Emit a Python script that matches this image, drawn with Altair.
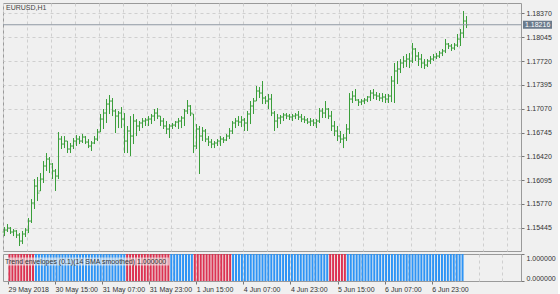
import altair as alt
import pandas as pd

symbol_title = "EURUSD,H1"
indicator_title = "Trend envelopes (0.1)(14 SMA smoothed) 1.000000"
time_labels = ["29 May 2018", "30 May 15:00", "31 May 07:00", "31 May 23:00", "1 Jun 15:00",
               "4 Jun 07:00", "4 Jun 23:00", "5 Jun 15:00", "6 Jun 07:00", "6 Jun 23:00"]
label_every = 16
grid_every = 8
price_ticks = [1.15445, 1.15770, 1.16095, 1.16420, 1.16745, 1.17070, 1.17395, 1.17720, 1.18045, 1.18370]
indicator_ticks = [0.0, 1.0]

highs = [1.15455, 1.15496, 1.15455, 1.15428, 1.15414, 1.15373, 1.15401, 1.15441, 1.15578, 1.15837,
         1.16110, 1.16138, 1.16192, 1.16356, 1.16465, 1.16411, 1.16329, 1.16247, 1.16752, 1.16697,
         1.16697, 1.16629, 1.16602, 1.16670, 1.16711, 1.16697, 1.16725, 1.16697, 1.16656, 1.16629,
         1.16697, 1.16793, 1.16998, 1.17066, 1.17202, 1.17257, 1.17216, 1.17066, 1.17039, 1.17093,
         1.17011, 1.16834, 1.16970, 1.16998, 1.16929, 1.16902, 1.16943, 1.16943, 1.16970, 1.16998,
         1.17066, 1.17079, 1.16970, 1.16943, 1.16902, 1.16861, 1.16875, 1.16902, 1.16943, 1.16970,
         1.17066, 1.17189, 1.17120, 1.16998, 1.16861, 1.16834, 1.16820, 1.16793, 1.16697, 1.16656,
         1.16629, 1.16656, 1.16697, 1.16684, 1.16725, 1.16806, 1.16902, 1.16943, 1.16970, 1.16970,
         1.16943, 1.17039, 1.17175, 1.17216, 1.17380, 1.17366, 1.17448, 1.17243, 1.17271, 1.17271,
         1.17039, 1.16998, 1.16984, 1.17011, 1.17011, 1.16998, 1.16998, 1.17011, 1.17039, 1.16998,
         1.16970, 1.16943, 1.16943, 1.16929, 1.16929, 1.17079, 1.17079, 1.17175, 1.17079, 1.17039,
         1.16902, 1.16834, 1.16766, 1.16725, 1.16861, 1.17284, 1.17312, 1.17339, 1.17202, 1.17202,
         1.17216, 1.17243, 1.17325, 1.17339, 1.17298, 1.17284, 1.17284, 1.17271, 1.17271, 1.17516,
         1.17694, 1.17721, 1.17748, 1.17789, 1.17817, 1.17830, 1.17967, 1.17898, 1.17844, 1.17817,
         1.17748, 1.17748, 1.17789, 1.17817, 1.17830, 1.17858, 1.17885, 1.18021, 1.17967, 1.17953,
         1.17967, 1.18090, 1.18158, 1.18404, 1.18335]

lows = [1.15332, 1.15387, 1.15360, 1.15332, 1.15305, 1.15196, 1.15223, 1.15319, 1.15373, 1.15510,
        1.15701, 1.15810, 1.15947, 1.16056, 1.16220, 1.16192, 1.16110, 1.15947, 1.16110, 1.16520,
        1.16533, 1.16465, 1.16465, 1.16520, 1.16561, 1.16588, 1.16602, 1.16588, 1.16533, 1.16493,
        1.16588, 1.16629, 1.16752, 1.16793, 1.16875, 1.16998, 1.16970, 1.16738, 1.16806, 1.16806,
        1.16465, 1.16465, 1.16424, 1.16588, 1.16697, 1.16766, 1.16806, 1.16834, 1.16834, 1.16861,
        1.16902, 1.16929, 1.16834, 1.16793, 1.16725, 1.16670, 1.16793, 1.16820, 1.16793, 1.16806,
        1.16834, 1.16998, 1.16970, 1.16465, 1.16520, 1.16179, 1.16629, 1.16615, 1.16561, 1.16533,
        1.16533, 1.16561, 1.16561, 1.16602, 1.16629, 1.16656, 1.16725, 1.16806, 1.16834, 1.16820,
        1.16766, 1.16766, 1.16861, 1.16998, 1.17175, 1.17216, 1.17134, 1.17134, 1.17066, 1.16970,
        1.16766, 1.16806, 1.16861, 1.16902, 1.16929, 1.16916, 1.16902, 1.16929, 1.16916, 1.16888,
        1.16875, 1.16861, 1.16834, 1.16834, 1.16806, 1.16875, 1.16943, 1.16943, 1.16929, 1.16766,
        1.16697, 1.16629, 1.16602, 1.16533, 1.16629, 1.16725, 1.17148, 1.17175, 1.17107, 1.17120,
        1.17134, 1.17161, 1.17175, 1.17202, 1.17189, 1.17175, 1.17161, 1.17148, 1.17148, 1.17161,
        1.17148, 1.17407, 1.17557, 1.17625, 1.17639, 1.17625, 1.17694, 1.17721, 1.17653, 1.17625,
        1.17612, 1.17639, 1.17680, 1.17721, 1.17748, 1.17762, 1.17789, 1.17830, 1.17885, 1.17858,
        1.17871, 1.17912, 1.17926, 1.18035, 1.18171]

opens = [1.15387, 1.15414, 1.15441, 1.15387, 1.15401, 1.15346, 1.15264, 1.15360, 1.15414, 1.15537,
         1.15783, 1.16015, 1.15947, 1.16110, 1.16288, 1.16383, 1.16315, 1.16220, 1.16151, 1.16656,
         1.16588, 1.16629, 1.16520, 1.16561, 1.16629, 1.16656, 1.16629, 1.16684, 1.16615, 1.16561,
         1.16602, 1.16656, 1.16752, 1.16929, 1.17011, 1.17134, 1.17175, 1.17039, 1.16970, 1.17011,
         1.16929, 1.16629, 1.16766, 1.16697, 1.16902, 1.16834, 1.16875, 1.16902, 1.16916, 1.16929,
         1.16970, 1.17011, 1.16970, 1.16902, 1.16834, 1.16793, 1.16834, 1.16847, 1.16888, 1.16902,
         1.16943, 1.17039, 1.17107, 1.16998, 1.16561, 1.16793, 1.16697, 1.16766, 1.16656, 1.16615,
         1.16588, 1.16602, 1.16629, 1.16656, 1.16643, 1.16697, 1.16766, 1.16875, 1.16902, 1.16888,
         1.16916, 1.16875, 1.16998, 1.17107, 1.17175, 1.17312, 1.17284, 1.17216, 1.17175, 1.17202,
         1.17011, 1.16902, 1.16943, 1.16957, 1.16984, 1.16970, 1.16957, 1.16970, 1.16984, 1.16957,
         1.16929, 1.16916, 1.16888, 1.16902, 1.16875, 1.16902, 1.17039, 1.17011, 1.17066, 1.16970,
         1.16834, 1.16766, 1.16697, 1.16656, 1.16670, 1.16793, 1.17202, 1.17243, 1.17189, 1.17161,
         1.17175, 1.17189, 1.17230, 1.17284, 1.17257, 1.17243, 1.17216, 1.17230, 1.17202, 1.17243,
         1.17448, 1.17585, 1.17612, 1.17694, 1.17721, 1.17748, 1.17721, 1.17885, 1.17789, 1.17748,
         1.17694, 1.17666, 1.17721, 1.17748, 1.17776, 1.17789, 1.17830, 1.17858, 1.17953, 1.17926,
         1.17898, 1.17939, 1.18021, 1.18103, 1.18267]

closes = [1.15414, 1.15441, 1.15387, 1.15401, 1.15346, 1.15264, 1.15360, 1.15414, 1.15537, 1.15783,
          1.16015, 1.15919, 1.16110, 1.16288, 1.16383, 1.16315, 1.16220, 1.16151, 1.16656, 1.16588,
          1.16629, 1.16520, 1.16561, 1.16629, 1.16656, 1.16629, 1.16684, 1.16615, 1.16561, 1.16602,
          1.16656, 1.16752, 1.16929, 1.17011, 1.17134, 1.17175, 1.17039, 1.16970, 1.17011, 1.16929,
          1.16629, 1.16766, 1.16697, 1.16902, 1.16834, 1.16875, 1.16902, 1.16916, 1.16929, 1.16970,
          1.17011, 1.16970, 1.16902, 1.16834, 1.16793, 1.16834, 1.16847, 1.16888, 1.16902, 1.16943,
          1.17039, 1.17107, 1.17011, 1.16561, 1.16793, 1.16697, 1.16766, 1.16656, 1.16615, 1.16588,
          1.16602, 1.16629, 1.16656, 1.16643, 1.16697, 1.16766, 1.16875, 1.16902, 1.16888, 1.16916,
          1.16875, 1.16998, 1.17107, 1.17175, 1.17312, 1.17284, 1.17216, 1.17175, 1.17202, 1.17011,
          1.16902, 1.16943, 1.16957, 1.16984, 1.16970, 1.16957, 1.16970, 1.16984, 1.16957, 1.16929,
          1.16916, 1.16888, 1.16902, 1.16875, 1.16902, 1.17039, 1.17011, 1.17066, 1.16970, 1.16834,
          1.16766, 1.16697, 1.16656, 1.16670, 1.16793, 1.17202, 1.17243, 1.17189, 1.17161, 1.17175,
          1.17189, 1.17230, 1.17284, 1.17257, 1.17243, 1.17216, 1.17230, 1.17202, 1.17243, 1.17448,
          1.17585, 1.17612, 1.17694, 1.17721, 1.17748, 1.17721, 1.17885, 1.17789, 1.17748, 1.17694,
          1.17666, 1.17721, 1.17748, 1.17776, 1.17789, 1.17830, 1.17858, 1.17953, 1.17926, 1.17898,
          1.17939, 1.18021, 1.18103, 1.18267, 1.18216]

# trend-envelope state per bar, as runs of (state, number of bars)
trend_runs = [("down", 9), ("up", 31), ("down", 15), ("up", 8), ("down", 13),
              ("up", 33), ("down", 6), ("up", 40)]
indicator_level = 1.0

# ---------------------------------------------------------------- data frames
trend = [state for state, n in trend_runs for _ in range(n)]
df = pd.DataFrame({
    "bar": list(range(len(closes))),
    "open": opens, "high": highs, "low": lows, "close": closes,
    "trend": trend,
    "level": [indicator_level] * len(closes),
})
last = pd.DataFrame({"price": [closes[-1]], "label": [f"{closes[-1]:.5f}"]})
title_df = pd.DataFrame({"t": [symbol_title]})
ind_title_df = pd.DataFrame({"t": [indicator_title]})

# ---------------------------------------------------------------- styling
FONT = "Liberation Sans"
BG = "#f0f0f0"
GREEN = "#3a9e3a"
RED = "#dc3352"
BLUE = "#2e94f5"
GRID = "#cfcfcf"
FRAME = "#9a9a9a"
TXT = "#333333"

W = 518
H_MAIN = 248
H_IND = 27

x_scale = alt.Scale(domain=[-0.5, (W - 1.5) / 3], nice=False, zero=False)
y_scale = alt.Scale(domain=[1.15128, 1.18513], nice=False, zero=False)

grid_vals = [k * grid_every - 0.5 for k in range(0, 22)]
js_labels = "[" + ",".join("'" + t + "'" for t in time_labels) + "]"
is_lab = f"((datum.value + 0.5) % {label_every} == 0 && (datum.value + 0.5) / {label_every} < {len(time_labels)})"
label_expr = f"{is_lab} ? {js_labels}[(datum.value + 0.5) / {label_every}] : ''"

x_axis_main = alt.Axis(values=grid_vals, labels=False, ticks=False, domain=False,
                       grid=True, gridColor=GRID, gridDash=[3, 3], title=None)
y_axis_main = alt.Axis(orient="right", values=price_ticks, format=".5f", title=None,
                       domain=False, ticks=True, tickSize=3, tickColor="#777777",
                       labelPadding=2, labelFont=FONT, labelFontSize=7, labelColor=TXT,
                       labelOverlap=False, labelBound=False,
                       grid=True, gridColor=GRID, gridDash=[3, 3], labelFlush=False)


def X(field):
    return alt.X(field, scale=x_scale, axis=x_axis_main)


def Y(field):
    return alt.Y(field, scale=y_scale, axis=y_axis_main)


base = alt.Chart(df)
hl = base.mark_rule(color=GREEN, strokeWidth=1).encode(x=X("bar:Q"), y=Y("low:Q"), y2="high:Q")
op = base.mark_tick(orient="horizontal", color=GREEN, size=2, thickness=1, xOffset=-1).encode(
    x=X("bar:Q"), y=Y("open:Q"))
cl = base.mark_tick(orient="horizontal", color=GREEN, size=2, thickness=1, xOffset=1).encode(
    x=X("bar:Q"), y=Y("close:Q"))

price_line = alt.Chart(last).mark_rule(color="#8f99a3", strokeWidth=1).encode(y=Y("price:Q"))
box_path = "M-1,-0.276L1,-0.276L1,0.276L-1,0.276Z"
price_box = alt.Chart(last).mark_point(shape=box_path, size=841, filled=True, color="#6b7b8c",
                                       opacity=1).encode(
    x=alt.value(W + 16.5), y=Y("price:Q"))
price_txt = alt.Chart(last).mark_text(align="left", baseline="middle", color="white",
                                      font=FONT, fontSize=7).encode(
    x=alt.value(W + 4), y=Y("price:Q"), text="label:N")
title = alt.Chart(title_df).mark_text(align="left", baseline="middle", color="#444444",
                                       font=FONT, fontSize=7).encode(
    x=alt.value(3), y=alt.value(5), text="t:N")

main = alt.layer(hl, op, cl, price_line, price_box, price_txt, title).properties(
    width=W, height=H_MAIN)

x_ind = alt.X("bar:Q", scale=x_scale,
              axis=alt.Axis(values=grid_vals, title=None, domain=False, grid=True,
                            gridColor=GRID, gridDash=[3, 3], ticks=True, tickSize=3,
                            tickColor="#777777",
                            tickOpacity={"condition": {"test": is_lab, "value": 1}, "value": 0},
                            labelExpr=label_expr, labelAlign="left", labelPadding=1,
                            labelFont=FONT, labelFontSize=7, labelColor=TXT,
                            labelOverlap=False, labelFlush=False, labelBound=False))

bars = alt.Chart(df).mark_bar(size=2).encode(
    x=x_ind,
    y=alt.Y("level:Q", scale=alt.Scale(domain=[0, 1], nice=False),
            axis=alt.Axis(orient="right", values=indicator_ticks, format=".6f", title=None,
                          domain=False, tickSize=3, tickColor="#777777", labelPadding=2,
                          labelFont=FONT, labelFontSize=7, labelColor=TXT, labelFlush=True,
                          labelOverlap=False, grid=False)),
    color=alt.Color("trend:N", scale=alt.Scale(domain=["down", "up"], range=[RED, BLUE]),
                    legend=None),
)
# light backing strip that keeps the indicator caption readable over the bars
ind_title_bg = alt.Chart(ind_title_df).mark_rect(color=BG, opacity=0.6).encode(
    x=alt.value(1), x2=alt.value(166), y=alt.value(3.5), y2=alt.value(11.5))
ind_title = alt.Chart(ind_title_df).mark_text(align="left", baseline="middle", color="#333333",
                                               font=FONT, fontSize=7).encode(
    x=alt.value(2), y=alt.value(7.5), text="t:N")

ind = alt.layer(bars, ind_title_bg, ind_title).properties(width=W, height=H_IND)

chart = alt.vconcat(main, ind, spacing=1).properties(
    padding={"left": 2, "top": 2, "right": 2, "bottom": 2},
    background=BG,
).configure_view(stroke=FRAME, strokeWidth=1, fill=BG).configure_axis(labelOverlap=False)

chart.save("out.html", embed_options={"renderer": "svg", "actions": False})
